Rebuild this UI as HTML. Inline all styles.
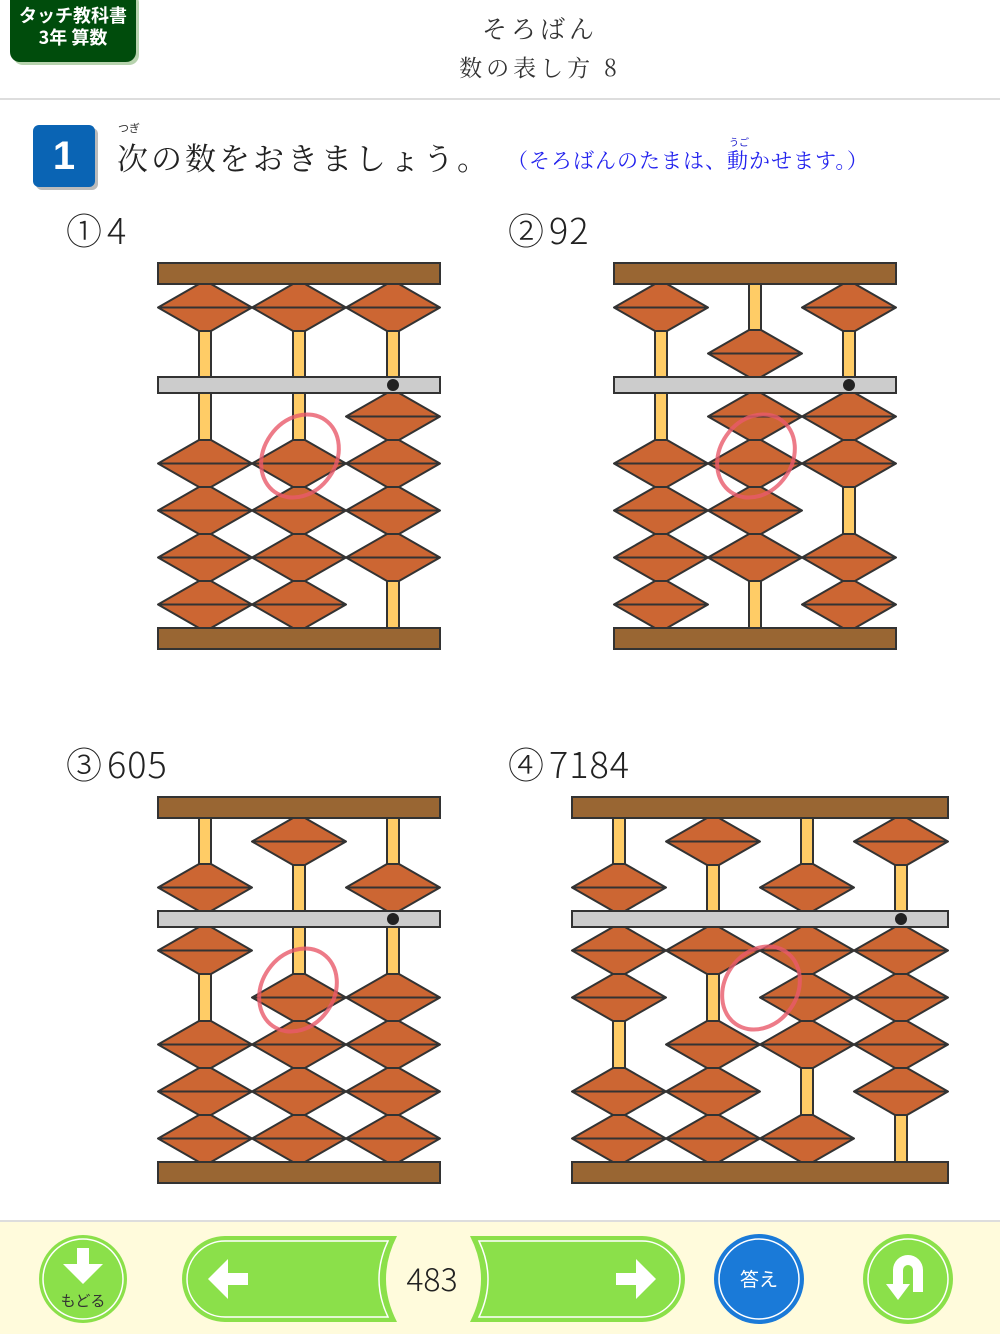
<!DOCTYPE html>
<html><head><meta charset="utf-8"><style>
body{margin:0;width:1000px;height:1334px;background:#fff;position:relative;overflow:hidden;font-family:"Liberation Sans","Noto Sans CJK JP",sans-serif}
.abs{position:absolute}
.lab{font-size:36px;color:#222;font-family:"Noto Sans CJK JP",sans-serif;font-weight:300;letter-spacing:1px}
</style></head><body>
<div class="abs" style="left:10px;top:-10px;width:126px;height:72px;background:#004c0c;border-radius:10px;box-shadow:3px 3px 0 #b7d3ae;color:#fff;font-size:18px;line-height:22px;text-align:center;padding-top:14px;box-sizing:border-box;font-family:'Noto Sans CJK JP',sans-serif;font-weight:bold">タッチ教科書<br>3年 算数</div>
<div class="abs" style="left:0;top:10px;width:1080px;text-align:center;font-family:'Noto Serif CJK SC',serif;font-size:25px;color:#333;letter-spacing:4px">そろばん</div>
<div class="abs" style="left:0;top:50px;width:1080px;text-align:center;font-family:'Noto Serif CJK SC',serif;font-size:23px;color:#333;letter-spacing:4px">数の表し方 8</div>
<div class="abs" style="left:0;top:98px;width:1000px;height:2px;background:#ddd"></div>
<div class="abs" style="left:33px;top:125px;width:62px;height:62px;background:#0a64b4;border-radius:6px;box-shadow:3px 3px 0 #bbb;color:#fff;font-size:40px;font-weight:bold;text-align:center;line-height:62px">1</div>
<div class="abs" style="left:118px;top:120px;font-size:11px;color:#333">つぎ</div>
<div class="abs" style="left:117px;top:134px;font-family:'Noto Serif CJK SC',serif;font-size:31px;color:#222;letter-spacing:3px">次の数をおきましょう。</div>
<div class="abs" style="left:729px;top:134px;font-size:10px;color:#2222cc">うご</div>
<div class="abs" style="left:507px;top:145px;font-family:'Noto Serif CJK SC',serif;font-size:21px;color:#2222ee;letter-spacing:1px">（そろばんのたまは、動かせます。）</div>
<div class="abs lab" style="left:66px;top:203px">①<span style="margin-left:4px">4</span></div>
<div class="abs lab" style="left:508px;top:203px">②<span style="margin-left:4px">92</span></div>
<div class="abs lab" style="left:66px;top:737px">③<span style="margin-left:4px">605</span></div>
<div class="abs lab" style="left:508px;top:737px">④<span style="margin-left:4px">7184</span></div>
<svg id="s" class="abs" style="left:0;top:0" width="1000" height="1334"></svg>
<div class="abs" style="left:0;top:1220px;width:1000px;height:2px;background:#ddd"></div>
<div class="abs" style="left:0;top:1222px;width:1000px;height:112px;background:#fffbdc"></div>
<svg class="abs" style="left:0;top:1222px" width="1000" height="112">
<circle cx="83" cy="57" r="44" fill="#8be04a"/><circle cx="83" cy="57" r="40" fill="none" stroke="#fff" stroke-width="1.5"/>
<path d="M77 26h12v16h14l-20 20-20-20h14z" fill="#fff"/>
<text x="83" y="84" font-size="15" text-anchor="middle" fill="#333" font-family="Liberation Sans,Noto Sans CJK JP,sans-serif">もどる</text>
<path d="M225 14h172q-22 43 0 86H225a43 43 0 0 1 0-86z" fill="#8be04a"/>
<path d="M225 19h163q-18 38 0 76H225a38 38 0 0 1 0-76z" fill="none" stroke="#fff" stroke-width="1.5"/>
<path d="M208 57l20-20v14h20v12h-20v14z" fill="#fff"/>
<path d="M470 14h172a43 43 0 0 1 0 86H470q22-43 0-86z" fill="#8be04a"/>
<path d="M479 19h163a38 38 0 0 1 0 76H479q18-38 0-76z" fill="none" stroke="#fff" stroke-width="1.5"/>
<path d="M656 57l-20-20v14h-20v12h20v14z" fill="#fff"/>
<text x="432" y="69" font-size="32" text-anchor="middle" fill="#222" font-family="Noto Sans CJK JP,sans-serif" font-weight="300">483</text>
<circle cx="759" cy="57" r="45" fill="#1a7ad8"/><circle cx="759" cy="57" r="40" fill="none" stroke="#fff" stroke-width="1.5"/>
<text x="759" y="64" font-size="19" text-anchor="middle" fill="#fff" font-family="Liberation Sans,Noto Sans CJK JP,sans-serif">答え</text>
<circle cx="908" cy="57" r="45" fill="#8be04a"/><circle cx="908" cy="57" r="40" fill="none" stroke="#fff" stroke-width="1.5"/>
<path d="M893 62v-14a15 15 0 0 1 30 0v22h-10v-22a5 5 0 0 0-10 0v14h7l-12 16-12-16z" fill="#fff"/>
</svg>
<script>
var s=document.getElementById('s'),h='';
function bead(x,t){var b=t+47,m=t+23.5;h+='<polygon points="'+(x-47)+','+m+' '+(x-6)+','+t+' '+(x+6)+','+t+' '+(x+47)+','+m+' '+(x+6)+','+b+' '+(x-6)+','+b+'" fill="#cc6633" stroke="#333" stroke-width="2" stroke-linejoin="round"/><line x1="'+(x-47)+'" y1="'+m+'" x2="'+(x+47)+'" y2="'+m+'" stroke="#333" stroke-width="2"/>';}
function ab(x0,y0,digits){var w=digits.length*94,x1=x0+w;
 digits.forEach(function(d,i){var x=x0+47+i*94;
  h+='<rect x="'+(x-6)+'" y="'+(y0+21)+'" width="12" height="'+(344)+'" fill="#ffcc66" stroke="#333" stroke-width="2"/>';});
 h+='<rect x="'+x0+'" y="'+y0+'" width="'+w+'" height="21" fill="#996633" stroke="#333" stroke-width="2"/>';
 h+='<rect x="'+x0+'" y="'+(y0+365)+'" width="'+w+'" height="21" fill="#996633" stroke="#333" stroke-width="2"/>';
 h+='<rect x="'+x0+'" y="'+(y0+114)+'" width="'+w+'" height="16" fill="#cccccc" stroke="#333" stroke-width="2"/>';
 digits.forEach(function(d,i){var x=x0+47+i*94;
  bead(x,d>=5?y0+67:y0+21);
  var n=d%5;
  for(var k=0;k<4;k++){ if(k<n) bead(x,y0+130+k*47); else bead(x,y0+365-(4-k)*47);}
 });
 h+='<circle cx="'+(x1-47)+'" cy="'+(y0+122)+'" r="6" fill="#222"/>';
}
ab(158,263,[0,0,4]);ab(614,263,[0,9,2]);ab(158,797,[6,0,5]);ab(572,797,[7,1,8,4]);
function ring(cx,cy){h+='<ellipse cx="'+cx+'" cy="'+cy+'" rx="36" ry="44" transform="rotate(35 '+cx+' '+cy+')" fill="none" stroke="#e85a6a" stroke-opacity="0.8" stroke-width="4"/>';}
ring(300,456);ring(756,456);ring(298,990);ring(761,988);
s.innerHTML=h;
</script>
</body></html>
